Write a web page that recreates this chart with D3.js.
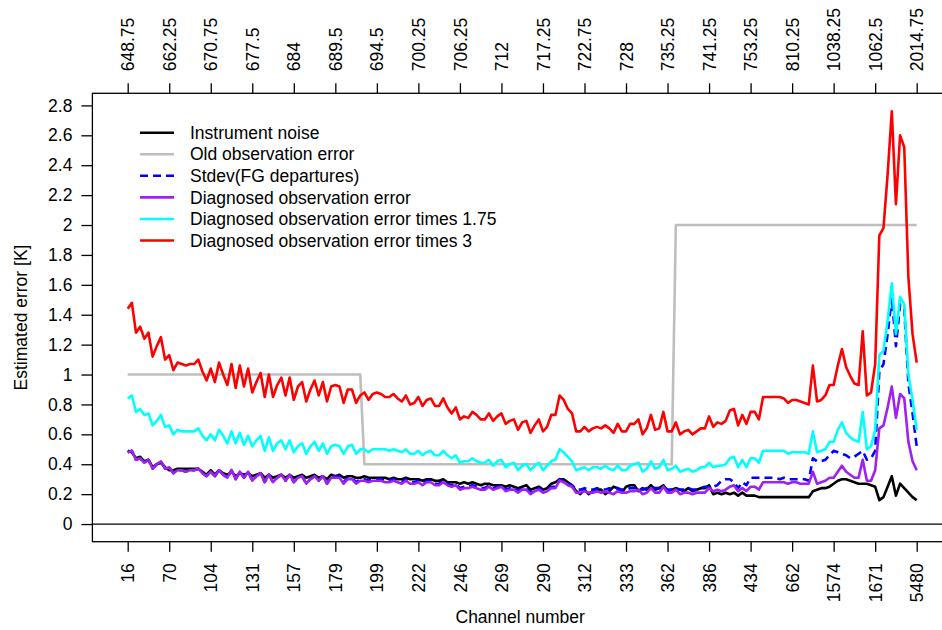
<!DOCTYPE html>
<html><head><meta charset="utf-8">
<script src="https://cdn.jsdelivr.net/npm/d3@7"></script>
<style>
body{margin:0;background:#fff}
svg{display:block}
text{font-family:"Liberation Sans",Arial,Helvetica,sans-serif;fill:#000}
</style>
</head><body>
<svg id="c" width="942" height="630"></svg>
<script>
// ---- data (index 0..190 along the channel list) ----
const channelLabels = ["16","70","104","131","157","179","199","222","246","269","290","312","333","362","386","434","662","1574","1671","5480"];
const wavenumberLabels = ["648.75","662.25","670.75","677.5","684","689.5","694.5","700.25","706.25","712","717.25","722.75","728","735.25","741.25","753.25","810.25","1038.25","1062.5","2014.75"];
const labelIndex = [0,10,20,30,40,50,60,70,80,90,100,110,120,130,140,150,160,170,180,190];
const yTicks = [0,0.2,0.4,0.6,0.8,1,1.2,1.4,1.6,1.8,2,2.2,2.4,2.6,2.8];

const instrumentNoise = [
.49,.48,.44,.45,.42,.43,.38,.40,.41,.38,
.36,.36,.37,.37,.37,.37,.37,.37,.35,.33,
.36,.33,.36,.34,.33,.35,.32,.34,.33,.34,
.32,.33,.34,.31,.33,.31,.32,.33,.31,.33,
.31,.32,.33,.31,.32,.33,.31,.32,.30,.33,
.32,.33,.31,.32,.32,.31,.31,.32,.31,.31,
.31,.31,.31,.30,.31,.30,.30,.31,.30,.30,
.30,.29,.30,.30,.29,.29,.30,.28,.28,.28,
.27,.28,.27,.28,.27,.26,.27,.27,.26,.26,
.26,.25,.26,.25,.24,.25,.26,.23,.24,.25,
.23,.24,.27,.28,.30,.30,.28,.26,.22,.20,
.23,.20,.22,.23,.23,.20,.22,.25,.24,.21,
.25,.26,.26,.22,.24,.23,.26,.23,.24,.26,
.22,.23,.24,.23,.22,.24,.22,.23,.24,.24,
.26,.20,.21,.20,.21,.20,.21,.19,.21,.19,
.19,.19,.18,.18,.18,.18,.18,.18,.18,.18,
.18,.18,.18,.18,.18,.22,.23,.24,.24,.25,
.27,.29,.30,.30,.29,.28,.27,.27,.27,.26,
.25,.16,.18,.25,.32,.19,.27,.24,.21,.18,
.16];

const oldObsError = [
1,1,1,1,1,1,1,1,1,1,
1,1,1,1,1,1,1,1,1,1,
1,1,1,1,1,1,1,1,1,1,
1,1,1,1,1,1,1,1,1,1,
1,1,1,1,1,1,1,1,1,1,
1,1,1,1,1,1,1,.4,.4,.4,
.4,.4,.4,.4,.4,.4,.4,.4,.4,.4,
.4,.4,.4,.4,.4,.4,.4,.4,.4,.4,
.4,.4,.4,.4,.4,.4,.4,.4,.4,.4,
.4,.4,.4,.4,.4,.4,.4,.4,.4,.4,
.4,.4,.4,.4,.4,.4,.4,.4,.4,.4,
.4,.4,.4,.4,.4,.4,.4,.4,.4,.4,
.4,.4,.4,.4,.4,.4,.4,.4,.4,.4,
.4,.4,2,2,2,2,2,2,2,2,
2,2,2,2,2,2,2,2,2,2,
2,2,2,2,2,2,2,2,2,2,
2,2,2,2,2,2,2,2,2,2,
2,2,2,2,2,2,2,2,2,2,
2,2,2,2,2,2,2,2,2,2,
2];

const stdevFG = [
.48,.49,.43,.44,.41,.43,.37,.40,.42,.37,
.38,.34,.36,.36,.35,.36,.36,.37,.34,.32,
.35,.32,.36,.33,.31,.36,.30,.35,.31,.35,
.29,.32,.34,.28,.33,.28,.31,.33,.29,.33,
.28,.31,.32,.27,.30,.32,.29,.32,.27,.32,
.32,.32,.28,.31,.31,.28,.30,.30,.29,.30,
.30,.30,.29,.29,.30,.29,.28,.30,.28,.28,
.29,.27,.29,.29,.27,.27,.29,.27,.26,.27,
.24,.25,.25,.26,.25,.24,.24,.26,.24,.25,
.26,.23,.24,.24,.22,.24,.24,.21,.23,.24,
.22,.23,.25,.25,.30,.29,.27,.26,.23,.23,
.24,.23,.23,.24,.23,.23,.24,.23,.24,.23,
.23,.24,.24,.25,.23,.24,.25,.24,.24,.25,
.23,.23,.24,.23,.23,.24,.23,.23,.24,.25,
.25,.25,.26,.29,.30,.30,.28,.24,.28,.26,
.31,.31,.31,.31,.31,.31,.31,.30,.31,.30,
.30,.30,.30,.30,.29,.44,.42,.42,.43,.46,
.49,.48,.47,.46,.44,.45,.47,.49,.43,.44,
.49,1.02,1.07,1.27,1.52,1.19,1.47,1.44,.94,.74,
.52];

const diagnosedError = [
.48,.49,.43,.44,.41,.43,.37,.40,.42,.37,
.38,.34,.36,.36,.35,.36,.36,.37,.34,.32,
.35,.32,.36,.33,.31,.36,.30,.35,.31,.35,
.29,.32,.34,.28,.33,.28,.31,.33,.29,.33,
.28,.31,.32,.27,.30,.32,.29,.32,.27,.31,
.31,.31,.27,.30,.30,.27,.29,.29,.28,.29,
.29,.29,.28,.28,.29,.28,.27,.29,.27,.27,
.28,.26,.28,.28,.26,.26,.28,.26,.25,.26,
.23,.24,.24,.25,.24,.23,.23,.25,.23,.24,
.25,.22,.23,.23,.21,.23,.23,.20,.22,.23,
.21,.22,.24,.24,.29,.28,.26,.25,.21,.21,
.22,.21,.21,.22,.21,.22,.21,.20,.22,.21,
.21,.22,.22,.23,.20,.21,.24,.21,.21,.25,
.21,.21,.23,.20,.21,.21,.20,.21,.21,.21,
.24,.22,.23,.22,.23,.25,.26,.22,.24,.22,
.25,.25,.23,.28,.28,.28,.28,.28,.28,.27,
.28,.28,.27,.27,.27,.35,.27,.28,.29,.31,
.31,.35,.39,.35,.33,.31,.31,.43,.29,.29,
.36,.64,.66,.78,.92,.71,.87,.84,.55,.42,
.36];

const diagnosedTimes175 = [
.84,.86,.75,.77,.73,.74,.66,.69,.73,.65,
.66,.60,.63,.62,.62,.62,.62,.64,.59,.56,
.60,.56,.63,.59,.54,.62,.54,.61,.53,.59,
.52,.56,.59,.49,.58,.49,.54,.56,.50,.56,
.48,.52,.54,.47,.52,.55,.49,.54,.47,.52,
.53,.52,.47,.52,.53,.47,.50,.50,.48,.50,
.50,.50,.50,.49,.50,.49,.48,.50,.47,.47,
.49,.46,.48,.49,.46,.46,.49,.46,.44,.46,
.41,.42,.42,.44,.42,.41,.41,.43,.39,.42,
.43,.38,.40,.41,.36,.39,.40,.36,.39,.41,
.36,.39,.42,.43,.50,.48,.45,.42,.36,.37,
.38,.36,.38,.38,.37,.39,.37,.36,.39,.36,
.36,.39,.40,.41,.35,.37,.42,.37,.38,.43,
.36,.37,.39,.35,.36,.37,.35,.36,.38,.38,
.41,.38,.39,.39,.40,.44,.45,.38,.43,.38,
.44,.44,.41,.49,.49,.49,.49,.49,.49,.47,
.48,.48,.48,.48,.47,.62,.48,.49,.50,.55,
.55,.63,.68,.61,.58,.56,.55,.75,.50,.52,
.63,1.13,1.16,1.36,1.61,1.27,1.52,1.47,1.00,.83,
.63];

const diagnosedTimes3 = [
1.44,1.48,1.28,1.32,1.24,1.28,1.12,1.19,1.25,1.10,
1.13,1.03,1.08,1.07,1.06,1.07,1.07,1.10,1.02,.96,
1.04,.95,1.08,1.00,.93,1.07,.91,1.06,.92,1.04,
.88,.95,1.01,.85,1.00,.85,.93,.98,.86,.98,
.83,.92,.95,.82,.90,.96,.86,.95,.82,.92,
.93,.92,.81,.90,.90,.81,.86,.88,.83,.87,
.88,.87,.85,.85,.87,.84,.82,.86,.80,.81,
.85,.79,.83,.84,.79,.79,.84,.78,.74,.78,
.70,.72,.71,.75,.73,.70,.70,.74,.69,.72,
.74,.67,.69,.70,.63,.68,.69,.61,.66,.70,
.62,.65,.73,.73,.86,.83,.77,.74,.62,.62,
.65,.62,.64,.65,.64,.66,.64,.61,.67,.62,
.62,.67,.67,.70,.60,.64,.73,.63,.64,.75,
.62,.62,.68,.60,.62,.63,.60,.62,.64,.64,
.72,.65,.68,.67,.69,.76,.77,.66,.73,.67,
.75,.75,.70,.85,.85,.85,.85,.85,.84,.81,
.83,.83,.82,.81,.80,1.06,.82,.83,.86,.93,
.93,1.06,1.17,1.05,.99,.94,.93,1.29,.86,.88,
1.07,1.93,1.98,2.34,2.76,2.14,2.60,2.52,1.65,1.27,
1.08];

const seriesNames = ["Instrument noise","Old observation error","Stdev(FG departures)","Diagnosed observation error","Diagnosed observation error times 1.75","Diagnosed observation error times 3"];
const seriesColors = ["#000000","#BEBEBE","#0000FF","#A020F0","#00FFFF","#FF0000"];
const seriesValues = [instrumentNoise, oldObsError, stdevFG, diagnosedError, diagnosedTimes175, diagnosedTimes3];

// ---- layout ----
const L = 92.4, R = 952.0, T = 93.3, B = 541.7;
const svg = d3.select("#c");
const x = d3.scaleLinear().domain([-8.5, 198.5]).range([L, R]);
const y = d3.scaleLinear().domain([-0.118, 2.881]).range([B, T]);
const FS = "17.5px";

// zero line
svg.append("line").attr("x1", L).attr("x2", R).attr("y1", y(0)).attr("y2", y(0))
  .attr("stroke", "#000").attr("stroke-width", 1.3);

// series
const line = d3.line().x((d, i) => x(i)).y(d => y(d));
seriesValues.forEach((vals, k) => {
  svg.append("path").datum(vals)
    .attr("d", line)
    .attr("fill", "none")
    .attr("stroke", seriesColors[k])
    .attr("stroke-width", 2.6)
    .attr("stroke-linejoin", "round")
    .attr("stroke-linecap", "butt")
    .attr("stroke-dasharray", k === 2 ? "8,5" : null);
});

// frame
svg.append("rect").attr("x", L).attr("y", T).attr("width", R - L).attr("height", B - T)
  .attr("fill", "none").attr("stroke", "#000").attr("stroke-width", 1.3);

// left axis
const gl = svg.append("g").attr("transform", `translate(${L},0)`)
  .call(d3.axisLeft(y).tickValues(yTicks).tickSize(11).tickPadding(9)
    .tickFormat(d => String(+d.toFixed(1))));
gl.select(".domain").remove();
gl.selectAll("line").attr("stroke-width", 1.3);
gl.selectAll("text").style("font-size", FS);

// bottom axis
const gb = svg.append("g").attr("transform", `translate(0,${B})`)
  .call(d3.axisBottom(x).tickValues(labelIndex).tickSize(10)
    .tickFormat((d, i) => channelLabels[i]));
gb.select(".domain").remove();
gb.selectAll("line").attr("stroke-width", 1.3);
gb.selectAll("text").style("font-size", FS)
  .attr("transform", "rotate(-90)").attr("text-anchor", "end")
  .attr("x", -21.5).attr("y", 0).attr("dy", "0.35em");

// top axis
const gt = svg.append("g").attr("transform", `translate(0,${T})`)
  .call(d3.axisTop(x).tickValues(labelIndex).tickSize(10)
    .tickFormat((d, i) => wavenumberLabels[i]));
gt.select(".domain").remove();
gt.selectAll("line").attr("stroke-width", 1.3);
gt.selectAll("text").style("font-size", FS)
  .attr("transform", "rotate(-90)").attr("text-anchor", "start")
  .attr("x", 22).attr("y", 0).attr("dy", "0.35em");

// axis titles
svg.append("text").attr("x", (L + R) / 2 - 2).attr("y", 623).attr("text-anchor", "middle")
  .style("font-size", FS).text("Channel number");
svg.append("text").attr("transform", `translate(27,${(T + B) / 2}) rotate(-90)`)
  .attr("text-anchor", "middle").style("font-size", FS).text("Estimated error [K]");

// legend
const lg = svg.append("g");
seriesNames.forEach((name, k) => {
  const yy = 132.7 + k * 21.56;
  lg.append("line").attr("x1", 140).attr("x2", 174).attr("y1", yy).attr("y2", yy)
    .attr("stroke", seriesColors[k]).attr("stroke-width", 2.6)
    .attr("stroke-dasharray", k === 2 ? "8,5" : null);
  lg.append("text").attr("x", 190).attr("y", yy).attr("dy", "0.35em")
    .style("font-size", FS).text(name);
});
</script>
</body></html>
